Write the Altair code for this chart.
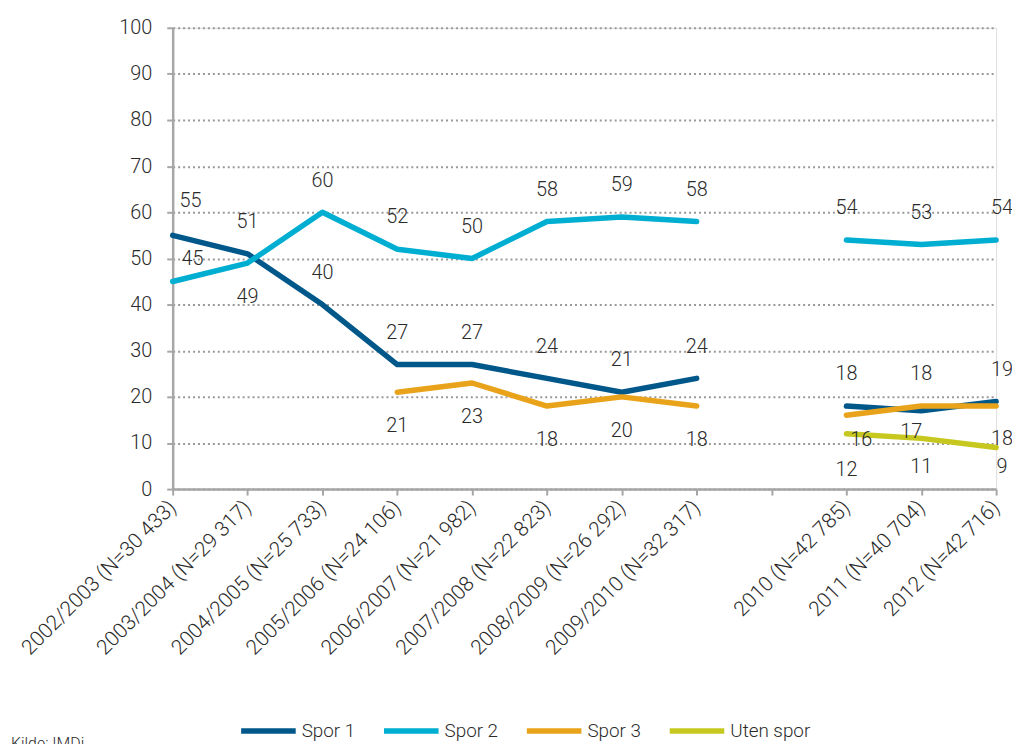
import altair as alt
import pandas as pd

categories = [
    "2002/2003 (N=30 433)", "2003/2004 (N=29 317)", "2004/2005 (N=25 733)",
    "2005/2006 (N=24 106)", "2006/2007 (N=21 982)", "2007/2008 (N=22 823)",
    "2008/2009 (N=26 292)", "2009/2010 (N=32 317)", "",
    "2010 (N=42 785)", "2011 (N=40 704)", "2012 (N=42 716)",
]
period = [1, 1, 1, 1, 1, 1, 1, 1, 0, 2, 2, 2]
series_names = ["Spor 1", "Spor 2", "Spor 3", "Uten spor"]
colors = ["#00578a", "#00aed1", "#e9a31b", "#c6c81f"]

spor1 = [55, 51, 40, 27, 27, 24, 21, 24, None, 18, 17, 19]
spor2 = [45, 49, 60, 52, 50, 58, 59, 58, None, 54, 53, 54]
spor3 = [None, None, None, 21, 23, 18, 20, 18, None, 16, 18, 18]
uten = [None, None, None, None, None, None, None, None, None, 12, 11, 9]

# label placement style codes (a = above the line, b = below)
place1 = ["a1", "a", "a", "a", "a", "a", "a", "a", "", "a", "m", "ar"]
place2 = ["a2", "b", "a", "a", "a", "a", "a", "a", "", "a", "a", "ar"]
place3 = ["", "", "", "b", "b", "b", "b", "b", "", "n", "a", "br"]
place4 = ["", "", "", "", "", "", "", "", "", "u", "v", "w"]

# (dx, dy) for each placement code
OFFSETS = {
    "a": (0, -32), "b": (0, 34), "a1": (18, -35), "a2": (20, -23),
    "ar": (6, -32), "br": (6, 33), "n": (15, 25), "m": (-10, 22),
    "u": (0, 37), "v": (0, 29), "w": (6, 20),
}

rows = []
for name, vals, places in zip(series_names, [spor1, spor2, spor3, uten],
                              [place1, place2, place3, place4]):
    for i, (c, v, p) in enumerate(zip(categories, vals, places)):
        if v is None:
            continue
        rows.append({"cat": c, "series": name, "value": v, "place": p,
                     "period": period[i]})
df = pd.DataFrame(rows)

FONT = "Roboto"
TXT = "#2b2b2b"
AX = "#a6a6a6"

xenc = alt.X("cat:N", sort=categories,
             scale=alt.Scale(type="point", domain=categories, padding=0),
             axis=alt.Axis(title=None, labelAngle=-45, labelAlign="right",
                           labelBaseline="middle", labelFontSize=21,
                           labelPadding=9, labelLimit=400, labelOverlap=False,
                           labelColor=TXT, labelFont=FONT, labelFontWeight=300,
                           tickSize=6, tickWidth=2, tickColor=AX,
                           domainColor=AX, domainWidth=2.5, grid=False))
yenc = alt.Y("value:Q", scale=alt.Scale(domain=[0, 100]),
             axis=alt.Axis(title=None, values=list(range(0, 101, 10)),
                           grid=True, gridDash=[2, 3], gridColor="#999999",
                           gridWidth=2, domainColor=AX, domainWidth=2.5,
                           tickColor=AX, tickWidth=2, tickSize=6,
                           labelFontSize=20, labelColor=TXT, labelFont=FONT,
                           labelFontWeight=300, labelPadding=15))

base = alt.Chart(df).encode(x=xenc, y=yenc)

lines = base.mark_line(strokeWidth=5.5, strokeCap="round", strokeJoin="round").encode(
    color=alt.Color("series:N", scale=alt.Scale(domain=series_names, range=colors),
                    legend=alt.Legend(orient="none", legendX=66, legendY=678,
                                      direction="horizontal", title=None,
                                      padding=0,
                                      symbolType="stroke", symbolStrokeWidth=5.5,
                                      symbolSize=3025, labelFontSize=19,
                                      labelColor=TXT, labelFont=FONT,
                                      labelFontWeight=300, columnPadding=17,
                                      labelOffset=3)),
    detail="period:N",
)

label_layers = []
for code, (dx, dy) in OFFSETS.items():
    label_layers.append(
        base.transform_filter(alt.datum.place == code).mark_text(
            dx=dx, dy=dy, fontSize=20, font=FONT, fontWeight=300, color=TXT,
            baseline="middle", align="center").encode(text="value:Q"))

source = alt.Chart(pd.DataFrame({"t": ["Kilde: IMDi"]})).mark_text(
    align="left", baseline="top", fontSize=16, font=FONT, fontWeight=300,
    color=TXT).encode(x=alt.value(-163), y=alt.value(714), text="t:N")

chart = alt.layer(lines, *label_layers, source).properties(
    width=830, height=465,
    padding={"left": 166, "top": 17, "right": 16, "bottom": 254},
    autosize=alt.AutoSizeParams(type="none"),
).configure_view(stroke=None).configure(font=FONT)

chart.save("out.html", embed_options={"renderer": "svg", "actions": False})
